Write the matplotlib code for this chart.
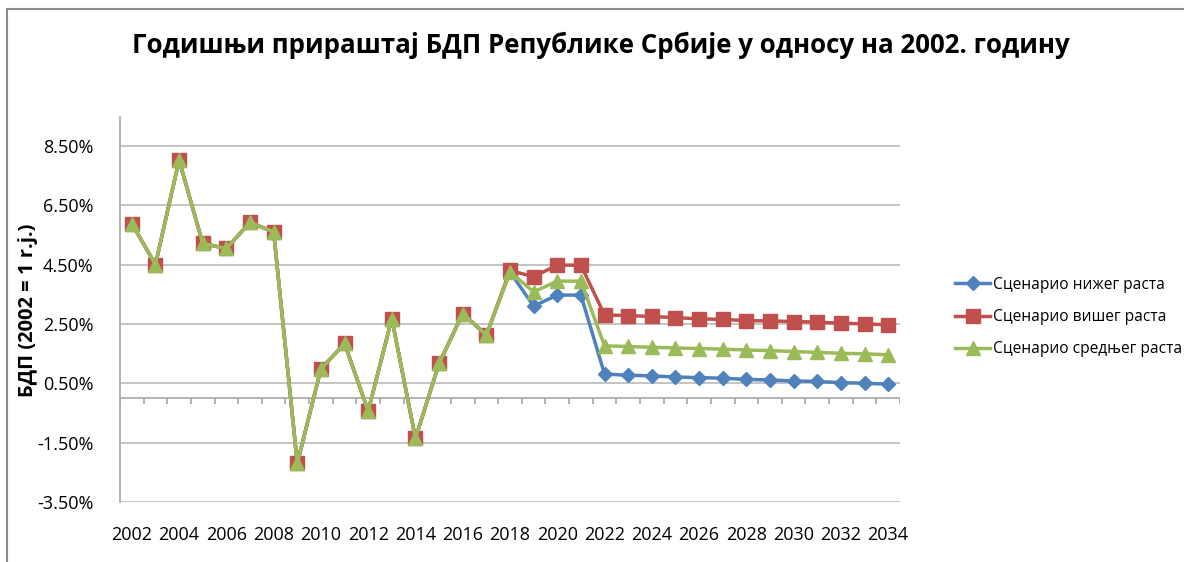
import numpy as np
import matplotlib
matplotlib.use('Agg')
import matplotlib.pyplot as plt
from matplotlib.patches import Rectangle
from matplotlib.ticker import FuncFormatter

plt.rcParams['font.family'] = ['Open Sans', 'DejaVu Sans']

# Data (% growth)
years = list(range(2002, 2035))
history = [5.88, 4.50, 8.02, 5.21, 5.04, 5.92, 5.60, -2.20, 0.98, 1.84,
           -0.44, 2.68, -1.36, 1.17, 2.85, 2.12]
low = history + [4.25, 3.10, 3.47, 3.47, 0.81, 0.77, 0.75, 0.71, 0.69,
                 0.67, 0.63, 0.61, 0.58, 0.56, 0.52, 0.50, 0.47]
high = history + [4.30, 4.09, 4.48, 4.48, 2.80, 2.78, 2.75, 2.71, 2.67,
                  2.65, 2.61, 2.60, 2.58, 2.56, 2.52, 2.50, 2.47]
mid = history + [4.25, 3.58, 3.94, 3.94, 1.76, 1.74, 1.71, 1.69, 1.67,
                 1.65, 1.62, 1.60, 1.57, 1.54, 1.51, 1.49, 1.46]
labels = ['Сценарио нижег раста', 'Сценарио вишег раста', 'Сценарио средњег раста']
colors = ['#4F81BD', '#C0504D', '#9BBB59']
yticks = [-3.5, -1.5, 0.5, 2.5, 4.5, 6.5, 8.5]

W, H = 1184, 562
fig = plt.figure(figsize=(W / 100, H / 100), dpi=100)
ax = fig.add_axes([120 / W, 1 - 502 / H, 780 / W, (502 - 116.7) / H])

x = np.arange(len(years))
ax.plot(x, low, color=colors[0], lw=2.5, marker='D', ms=7.5, label=labels[0], zorder=3)
ax.plot(x, high, color=colors[1], lw=2.5, marker='s', ms=9.5, label=labels[1], zorder=4)
ax.plot(x, mid, color=colors[2], lw=2.5, marker='^', ms=10.5, label=labels[2], zorder=5)

ax.set_xlim(-0.5, len(years) - 0.5)
ax.set_ylim(-3.5, 9.48)
ax.set_yticks(yticks)
ax.yaxis.set_major_formatter(FuncFormatter(lambda v, p: f'{v:.2f}%'))
ax.grid(axis='y', color='#BFBFBF', lw=1.3)
ax.set_axisbelow(True)

ax.set_xticks(x[::2])
ax.set_xticklabels([str(y) for y in years[::2]])
ax.tick_params(axis='both', length=0, labelsize=13)
ax.tick_params(axis='x', pad=17)
ax.tick_params(axis='y', pad=19)

for s in ['top', 'right', 'bottom']:
    ax.spines[s].set_visible(False)
ax.spines['left'].set_color('#A6A6A6')
ax.spines['left'].set_linewidth(1.2)

# horizontal axis crossing at 0 with tick marks between categories
ax.axhline(0, color='#A6A6A6', lw=1.2, zorder=1)
ax.vlines(np.arange(-0.5, len(years), 1), -0.2, 0, color='#A6A6A6', lw=1.2, zorder=1)

ax.set_ylabel('БДП (2002 = 1 r.j.)', fontsize=14.5, fontweight='bold')
ax.yaxis.set_label_coords(-82 / 780, (502 - 310) / (502 - 116.7))

fig.text(0.5 + 9 / W, 1 - 45 / H, 'Годишњи прираштај БДП Републике Србије у односу на 2002. годину',
         ha='center', va='center', fontsize=18.6, fontweight='bold')

ax.legend(loc='center left', bbox_to_anchor=(955 / W, 1 - 317 / H),
          bbox_transform=fig.transFigure, frameon=False, fontsize=11.2,
          handlelength=2.25, handletextpad=0.2, labelspacing=1.05,
          borderpad=0, borderaxespad=0)

fig.add_artist(Rectangle((7 / W, -0.1), 1.2, 1 - 9 / H + 0.1, transform=fig.transFigure,
                         fill=False, edgecolor='#8C8C8C', lw=1.5))

plt.savefig('out.png', dpi=100)
